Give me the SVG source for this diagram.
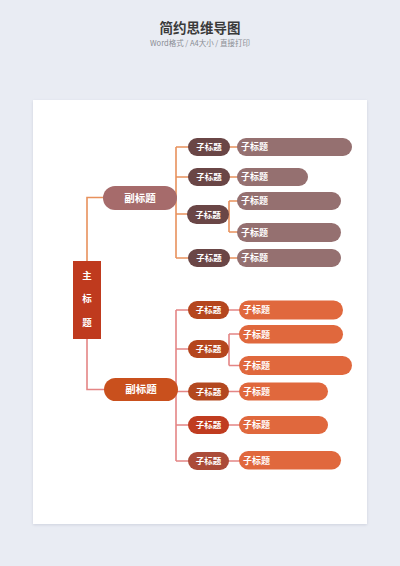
<svg xmlns="http://www.w3.org/2000/svg" width="400" height="566" viewBox="0 0 400 566">
<defs>
<filter id="sh" x="-5%" y="-5%" width="110%" height="110%"><feDropShadow dx="0" dy="1" stdDeviation="1.5" flood-color="#9aa3b8" flood-opacity="0.35"/></filter>
<style>
.t{font-family:"Noto Sans CJK SC","Liberation Sans",sans-serif;fill:#fff;font-weight:bold}
.c{font-size:8.5px;text-anchor:middle}
.g{font-size:9px}
.lu{stroke:#e8915c;stroke-width:1.6;fill:none}
.ll{stroke:#e48585;stroke-width:1.6;fill:none}
.cu{fill:#6a4646}
.gu{fill:#957070}
.gl{fill:#e0683d}
</style>
</defs>
<rect width="400" height="566" fill="#e9ecf3"/>
<text x="200" y="33" text-anchor="middle" font-family="Noto Sans CJK SC,sans-serif" font-size="13.5" font-weight="bold" fill="#3a3a3a">简约思维导图</text>
<text x="200" y="46" text-anchor="middle" font-family="Noto Sans CJK SC,sans-serif" font-size="7.5" fill="#8a8d94">Word格式 / A4大小 / 直接打印</text>
<rect x="33" y="100" width="334" height="424" fill="#fff" filter="url(#sh)"/>
<g id="connectors">
<path class="lu" d="M87 261 V197.5 H104"/>
<path class="lu" d="M176 147 V258 M176 147 H189 M176 177 H189 M176 214 H189 M176 258 H189"/>
<path class="lu" d="M229 147 H238 M229 177 H238 M229 201 V232 M226 214 H229 M229 201 H238 M229 232 H238 M229 258 H238"/>
<path class="ll" d="M87 339 V389.5 H105"/>
<path class="ll" d="M176 310 V461 M176 310 H189 M176 349 H189 M176 391.5 H189 M176 425 H189 M176 461 H189"/>
<path class="ll" d="M228 310 H240 M229 334 V365.5 M227 349 H229 M229 334 H240 M229 365.5 H240 M228 391.5 H240 M228 425 H240 M228 461 H240"/>
</g>
<g id="main"><rect x="73" y="261" width="28" height="78" fill="#bf3a1e"/>
<text class="t" x="87" y="279" font-size="9.5" text-anchor="middle">主</text>
<text class="t" x="87" y="302" font-size="9.5" text-anchor="middle">标</text>
<text class="t" x="87" y="326" font-size="9.5" text-anchor="middle">题</text></g>
<g id="sub1"><rect x="103" y="186" width="74" height="24" rx="12" fill="#a66b6b"/><text class="t" x="140" y="201.8" font-size="10.5" text-anchor="middle">副标题</text></g>
<g id="sub2"><rect x="104" y="378" width="74" height="23" rx="11.5" fill="#c9501d"/><text class="t" x="141" y="393.3" font-size="10.5" text-anchor="middle">副标题</text></g>
<g id="u1"><rect class="cu" x="188" y="138" width="42" height="18" rx="9"/><text class="t c" x="209" y="150">子标题</text></g>
<g id="u2"><rect class="cu" x="188" y="168" width="42" height="18" rx="9"/><text class="t c" x="209" y="180">子标题</text></g>
<g id="u3"><rect class="cu" x="187" y="205" width="42" height="19" rx="9.5"/><text class="t c" x="208" y="217.5">子标题</text></g>
<g id="u4"><rect class="cu" x="188" y="249" width="42" height="18" rx="9"/><text class="t c" x="209" y="261">子标题</text></g>
<g id="ug1"><rect class="gu" x="237" y="138" width="115" height="18" rx="9"/><text class="t g" x="241" y="150.2">子标题</text></g>
<g id="ug2"><rect class="gu" x="237" y="168" width="71" height="18" rx="9"/><text class="t g" x="241" y="180.2">子标题</text></g>
<g id="ug3"><rect class="gu" x="237" y="192" width="104" height="18" rx="9"/><text class="t g" x="241" y="204.2">子标题</text></g>
<g id="ug4"><rect class="gu" x="237" y="223" width="104" height="19" rx="9.5"/><text class="t g" x="241" y="235.7">子标题</text></g>
<g id="ug5"><rect class="gu" x="237" y="249" width="104" height="18" rx="9"/><text class="t g" x="241" y="261.2">子标题</text></g>
<g id="l1"><rect x="188" y="301" width="41" height="18" rx="9" fill="#b5461e"/><text class="t c" x="208.5" y="313">子标题</text></g>
<g id="l2"><rect x="188" y="340" width="41" height="18" rx="9" fill="#b5461e"/><text class="t c" x="208.5" y="352">子标题</text></g>
<g id="l3"><rect x="188" y="382.5" width="41" height="18" rx="9" fill="#b3481f"/><text class="t c" x="208.5" y="394.5">子标题</text></g>
<g id="l4"><rect x="188" y="416" width="41" height="18" rx="9" fill="#c03c20"/><text class="t c" x="208.5" y="428">子标题</text></g>
<g id="l5"><rect x="188" y="452" width="41" height="18" rx="9" fill="#ab4b38"/><text class="t c" x="208.5" y="464">子标题</text></g>
<g id="lg1"><rect class="gl" x="239" y="300.5" width="104" height="19" rx="9.5"/><text class="t g" x="243" y="313.2">子标题</text></g>
<g id="lg2"><rect class="gl" x="239" y="325" width="104" height="18.5" rx="9.25"/><text class="t g" x="243" y="337.5">子标题</text></g>
<g id="lg3"><rect class="gl" x="239" y="356" width="113" height="19" rx="9.5"/><text class="t g" x="243" y="368.7">子标题</text></g>
<g id="lg4"><rect class="gl" x="239" y="382.5" width="89" height="18" rx="9"/><text class="t g" x="243" y="394.7">子标题</text></g>
<g id="lg5"><rect class="gl" x="239" y="416" width="89" height="18" rx="9"/><text class="t g" x="243" y="428.2">子标题</text></g>
<g id="lg6"><rect class="gl" x="239" y="451" width="102" height="18.5" rx="9.25"/><text class="t g" x="243" y="463.5">子标题</text></g>
</svg>
